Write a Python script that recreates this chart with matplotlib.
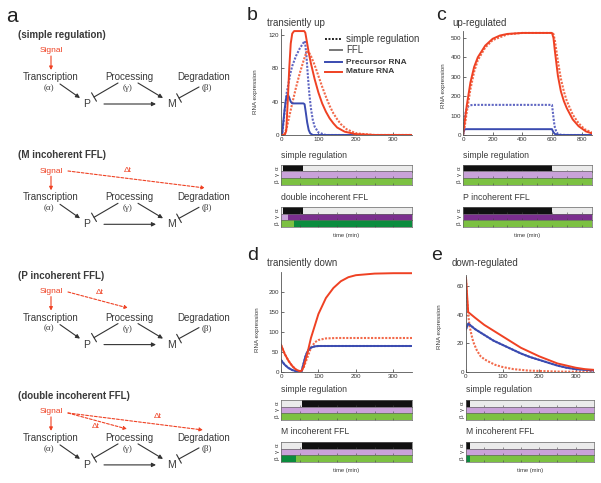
import matplotlib
matplotlib.use("Agg")
import matplotlib.pyplot as plt

W, H = 601, 483
plt.rcParams['font.family'] = ['Liberation Sans', 'DejaVu Sans']

RED = '#ef4123'
RED_DOT = '#f26a4b'
BLUE = '#3a4bb0'
BLUE_DOT = '#5f66c2'
TXT = '#3a3a3a'

# ---- b: transiently up (double incoherent FFL)
B_T_PRE_S = [0, 3, 6, 10, 15, 20, 25, 30, 40, 50, 60, 64, 68, 72, 76, 80, 85, 90, 100, 120, 350]
B_PRE_S = [0, 0, 12, 30, 50, 62, 74, 83, 95, 104, 111, 113, 95, 70, 48, 32, 18, 10, 3, 0, 0]
B_T_PRE_F = [0, 3, 6, 10, 14, 18, 22, 26, 30, 60, 63, 66, 70, 74, 78, 85, 350]
B_PRE_F = [0, 2, 15, 32, 45, 49, 45, 40, 38, 38, 37, 28, 15, 6, 2, 0, 0]
B_T_MAT_S = [0, 8, 15, 20, 30, 40, 50, 60, 68, 75, 80, 90, 100, 110, 120, 130, 140, 150, 160, 175, 200, 250, 350]
B_MAT_S = [0, 0, 8, 18, 38, 57, 74, 89, 100, 99, 95, 84, 71, 58, 46, 35, 26, 19, 13, 7, 2, 0, 0]
B_T_MAT_F = [0, 10, 14, 18, 22, 26, 30, 35, 62, 65, 70, 75, 80, 90, 100, 110, 120, 130, 140, 150, 170, 200, 250, 350]
B_MAT_F = [0, 0, 5, 40, 80, 110, 122, 125, 125, 123, 110, 97, 86, 67, 51, 38, 28, 20, 14, 9, 4, 1, 0, 0]

# ---- c: up-regulated (P incoherent FFL)
C_T_PRE_S = [0, 5, 10, 20, 30, 40, 50, 70, 600, 605, 610, 615, 620, 630, 640, 660, 700, 870]
C_PRE_S = [0, 45, 80, 125, 142, 150, 153, 155, 155, 125, 90, 60, 38, 15, 6, 1, 0, 0]
C_T_PRE_F = [0, 3, 6, 10, 20, 600, 605, 610, 620, 640, 660, 870]
C_PRE_F = [0, 12, 22, 28, 30, 30, 22, 14, 5, 1, 0, 0]
C_T_MAT_S = [0, 10, 25, 50, 75, 100, 150, 200, 300, 400, 600, 610, 620, 640, 660, 680, 700, 740, 780, 820, 870]
C_MAT_S = [0, 35, 115, 235, 325, 385, 450, 488, 518, 525, 525, 520, 485, 380, 290, 225, 175, 105, 60, 30, 12]
C_T_MAT_F = [0, 10, 25, 50, 75, 100, 150, 200, 250, 300, 400, 600, 610, 620, 640, 660, 680, 700, 740, 780, 830, 870]
C_MAT_F = [0, 60, 150, 270, 350, 400, 460, 495, 512, 520, 525, 525, 500, 430, 305, 225, 175, 138, 80, 45, 18, 8]

# ---- d: transiently down (M incoherent FFL)
D_T_PRE = [0, 10, 20, 30, 40, 50, 55, 60, 65, 70, 75, 80, 90, 100, 350]
D_PRE = [30, 18, 10, 5, 2, 1, 2, 20, 38, 50, 57, 61, 64, 65, 65]
D_T_MAT_S = [0, 10, 20, 30, 40, 50, 55, 60, 70, 80, 90, 100, 120, 150, 350]
D_MAT_S = [68, 45, 28, 15, 6, 2, 3, 10, 35, 60, 74, 80, 84, 85, 85]
D_T_MAT_F = [0, 10, 20, 30, 40, 50, 55, 60, 70, 80, 90, 100, 120, 140, 160, 180, 200, 250, 300, 350]
D_MAT_F = [68, 45, 28, 15, 6, 2, 3, 12, 45, 85, 115, 145, 185, 210, 227, 237, 242, 246, 247, 247]

# ---- e: down-regulated (M incoherent FFL)
E_T_PRE = [0, 6, 25, 50, 75, 100, 125, 150, 175, 200, 225, 250, 275, 300, 350]
E_PRE = [30, 34, 30, 26, 22, 19, 16, 13, 10.5, 8.5, 6.5, 4.5, 3, 2, 1]
E_T_MAT_S = [0, 3, 6, 10, 15, 20, 30, 40, 50, 60, 80, 100, 130, 170, 250, 350]
E_MAT_S = [65, 50, 40, 32, 26, 21, 15, 11, 9, 7.5, 5, 3.5, 2, 1, 0.3, 0]
E_T_MAT_F = [0, 6, 25, 50, 75, 100, 125, 150, 175, 200, 225, 250, 275, 300, 325, 350]
E_MAT_F = [66, 42, 38, 33, 29, 25, 21, 17, 14, 11, 8.5, 6, 4.5, 3, 2, 1.5]

# ---- rate schedules (start, end, level) for alpha / gamma / beta rows
B_S_A = [(0, 5, 0), (5, 60, 1), (60, 350, 0)]
B_S_G = [(0, 350, 0)]
B_S_B = [(0, 350, 0)]
B_F_A = [(0, 5, 0), (5, 60, 1), (60, 350, 0)]
B_F_G = [(0, 20, 0), (20, 350, 1)]
B_F_B = [(0, 35, 0), (35, 350, 1)]

C_S_A = [(0, 600, 1), (600, 870, 0)]
C_S_G = [(0, 870, 0)]
C_S_B = [(0, 870, 0)]
C_F_A = [(0, 600, 1), (600, 870, 0)]
C_F_G = [(0, 10, 0), (10, 870, 1)]
C_F_B = [(0, 870, 0)]

D_S_A = [(0, 55, 0), (55, 350, 1)]
D_S_G = [(0, 350, 0)]
D_S_B = [(0, 350, 0)]
D_F_A = [(0, 55, 0), (55, 350, 1)]
D_F_G = [(0, 350, 0)]
D_F_B = [(0, 40, 1), (40, 350, 0)]

E_S_A = [(0, 10, 1), (10, 350, 0)]
E_S_G = [(0, 350, 0)]
E_S_B = [(0, 350, 0)]
E_F_A = [(0, 10, 1), (10, 350, 0)]
E_F_G = [(0, 350, 0)]
E_F_B = [(0, 10, 1), (10, 350, 0)]

ROW_COLORS = {
    'a': ('#ebebeb', '#111111'),
    'g': ('#c9a2d9', '#7b2e8e'),
    'b': ('#7cc142', '#0b8c3e'),
}
GREEK = {'a': 'α', 'g': 'γ', 'b': 'β'}

NETWORKS = ['(simple regulation)', '(M incoherent FFL)', '(P incoherent FFL)',
            '(double incoherent FFL)']

fig = plt.figure(figsize=(W / 100, H / 100), dpi=100)
fig.patch.set_facecolor('white')


def px_axes(x0, y0, x1, y1, **kw):
    return fig.add_axes([x0 / W, 1 - y1 / H, (x1 - x0) / W, (y1 - y0) / H], **kw)


over = px_axes(0, 0, W, H, zorder=5)
over.set_xlim(0, W)
over.set_ylim(H, 0)
over.axis('off')
over.patch.set_alpha(0)


def curve_panel(box, xmax, ymax, xticks, yticks, curves):
    ax = px_axes(*box)
    for t, v, color, dotted in curves:
        if dotted:
            ax.plot(t, v, color=color, lw=1.5, ls=(0, (1, 0.7)))
        else:
            ax.plot(t, v, color=color, lw=1.4)
    ax.set_xlim(0, xmax)
    ax.set_ylim(0, ymax)
    ax.set_xticks(xticks)
    ax.set_yticks(yticks)
    for s in ('top', 'right'):
        ax.spines[s].set_visible(False)
    for s in ('left', 'bottom'):
        ax.spines[s].set_color('#555555')
        ax.spines[s].set_linewidth(0.6)
    ax.tick_params(direction='in', length=2, width=0.5, labelsize=4.5, pad=1.5,
                   colors='#333333')
    ax.patch.set_alpha(0)
    return ax


def bar_block(x0, x1, y0, row_h, tmax, step, rows):
    for i, (key, segs) in enumerate(rows):
        ya = y0 + i * row_h
        ax = px_axes(x0, ya, x1, ya + row_h)
        for s, e, lvl in segs:
            ax.barh(0.5, e - s, left=s, height=1, color=ROW_COLORS[key][lvl], lw=0)
        ax.set_xlim(0, tmax)
        ax.set_ylim(0, 1)
        ax.set_xticks(range(step, tmax, step))
        ax.set_yticks([])
        ax.tick_params(direction='in', length=1.2, width=0.4, labelbottom=False,
                       colors='#444444')
        for s in ax.spines.values():
            s.set_color('#666666')
            s.set_linewidth(0.5)
        over.text(x0 - 4, ya + row_h / 2, GREEK[key], rotation=90, ha='center',
                  va='center', fontsize=4.5, color=TXT)


def panel(letter, title, lxy, txy, ylab_xy, box, xmax, ymax, xticks, yticks, curves,
          bx0, bx1, by, tmax, step, names, sched_s, sched_f):
    curve_panel(box, xmax, ymax, xticks, yticks, curves)
    over.text(lxy[0], lxy[1], letter, fontsize=14, ha='left', va='center', color='#222222')
    over.text(txy[0], txy[1], title, fontsize=7, ha='left', va='center', color=TXT)
    over.text(ylab_xy[0], ylab_xy[1], 'RNA expression', rotation=90, fontsize=4.5,
              ha='center', va='center', color=TXT)
    row_h, gap = 6.5, 42
    over.text(bx0, by - 10, names[0], fontsize=6.2, ha='left', va='center', color=TXT)
    bar_block(bx0, bx1, by, row_h, tmax, step, sched_s)
    over.text(bx0, by + gap - 10, names[1], fontsize=6.2, ha='left', va='center', color=TXT)
    bar_block(bx0, bx1, by + gap, row_h, tmax, step, sched_f)
    over.text((bx0 + bx1) / 2, by + gap + 3 * row_h + 9, 'time (min)', fontsize=4.2,
              ha='center', va='center', color=TXT)


panel('b', 'transiently up', (247, 16), (267, 23), (256, 92),
      (281, 29, 412, 135), 350, 127.5, [0, 100, 200, 300], [0, 40, 80, 120],
      [(B_T_PRE_S, B_PRE_S, BLUE_DOT, True), (B_T_MAT_S, B_MAT_S, RED_DOT, True),
       (B_T_PRE_F, B_PRE_F, BLUE, False), (B_T_MAT_F, B_MAT_F, RED, False)],
      281, 412, 165, 350, 50, ['simple regulation', 'double incoherent FFL'],
      [('a', B_S_A), ('g', B_S_G), ('b', B_S_B)],
      [('a', B_F_A), ('g', B_F_G), ('b', B_F_B)])

panel('c', 'up-regulated', (436, 16), (452, 23), (444, 86),
      (463, 31, 592, 135), 870, 535, [0, 200, 400, 600, 800], [0, 100, 200, 300, 400, 500],
      [(C_T_PRE_S, C_PRE_S, BLUE_DOT, True), (C_T_MAT_S, C_MAT_S, RED_DOT, True),
       (C_T_PRE_F, C_PRE_F, BLUE, False), (C_T_MAT_F, C_MAT_F, RED, False)],
      463, 592, 165, 870, 100, ['simple regulation', 'P incoherent FFL'],
      [('a', C_S_A), ('g', C_S_G), ('b', C_S_B)],
      [('a', C_F_A), ('g', C_F_G), ('b', C_F_B)])

panel('d', 'transiently down', (247, 256), (267, 263), (257, 330),
      (281, 272, 412, 372), 350, 250, [0, 100, 200, 300], [0, 50, 100, 150, 200],
      [(D_T_PRE, D_PRE, BLUE_DOT, True), (D_T_MAT_S, D_MAT_S, RED_DOT, True),
       (D_T_PRE, D_PRE, BLUE, False), (D_T_MAT_F, D_MAT_F, RED, False)],
      281, 412, 400, 350, 50, ['simple regulation', 'M incoherent FFL'],
      [('a', D_S_A), ('g', D_S_G), ('b', D_S_B)],
      [('a', D_F_A), ('g', D_F_G), ('b', D_F_B)])

panel('e', 'down-regulated', (431, 256), (452, 263), (440, 327),
      (466, 275, 594, 372), 350, 68, [0, 100, 200, 300], [0, 20, 40, 60],
      [(E_T_PRE, E_PRE, BLUE_DOT, True), (E_T_MAT_S, E_MAT_S, RED_DOT, True),
       (E_T_PRE, E_PRE, BLUE, False), (E_T_MAT_F, E_MAT_F, RED, False)],
      466, 594, 400, 350, 50, ['simple regulation', 'M incoherent FFL'],
      [('a', E_S_A), ('g', E_S_G), ('b', E_S_B)],
      [('a', E_F_A), ('g', E_F_G), ('b', E_F_B)])

# legend (panel b)
leg_rows = [(39, 'simple regulation', '#222222', (0, (1, 0.8)), 'normal', 7, 325),
            (50, 'FFL', '#777777', '-', 'normal', 7, 330),
            (62, 'Precursor RNA', BLUE, '-', 'bold', 6, 325),
            (71.5, 'Mature RNA', RED, '-', 'bold', 6, 325)]
for y, lab, col, ls, wt, fs, xs in leg_rows:
    over.plot([xs, 342], [y, y], color=col, ls=ls, lw=1.4)
    over.text(346, y, lab, fontsize=fs, fontweight=wt, ha='left', va='center', color=TXT)

# ---- a: network diagrams
over.text(6, 16, 'a', fontsize=15, ha='left', va='center', color='#222222')
GRAY = '#333333'


def arrow(p0, p1, color=GRAY, style='-|>', ls='-', lw=0.8, ms=6):
    over.annotate('', xy=p1, xytext=p0,
                  arrowprops=dict(arrowstyle=style, color=color, lw=lw, ls=ls,
                                  mutation_scale=ms, shrinkA=0, shrinkB=0))


bar_style = '-[, widthB=0.7, lengthB=0'
for k, name in enumerate(NETWORKS):
    b0 = 35 + 120.3 * k
    over.text(18, b0, name, fontsize=7, fontweight='bold', ha='left', va='center', color=TXT)
    over.text(51, b0 + 16, 'Signal', fontsize=6, ha='center', va='center', color=RED)
    arrow((51, b0 + 21), (51, b0 + 35), color=RED, ms=5)
    over.text(51, b0 + 42, 'Transcription', fontsize=7, ha='center', va='center', color=TXT)
    over.text(129, b0 + 42, 'Processing', fontsize=7, ha='center', va='center', color=TXT)
    over.text(204, b0 + 42, 'Degradation', fontsize=7, ha='center', va='center', color=TXT)
    for x, g in ((49, '(α)'), (128, '(γ)'), (207, '(β)')):
        over.text(x, b0 + 53, g, fontsize=6.5, ha='center', va='center', color=TXT,
                  family=['Liberation Serif', 'DejaVu Serif'])
    over.text(87, b0 + 69, 'P', fontsize=7.5, ha='center', va='center', color=TXT)
    over.text(171, b0 + 69, 'M', fontsize=7.5, ha='center', va='center', color=TXT)
    arrow((60, b0 + 49), (80, b0 + 63))
    arrow((118, b0 + 48), (94, b0 + 62), style=bar_style, ms=5)
    arrow((138, b0 + 48), (163, b0 + 63))
    arrow((199, b0 + 52), (179, b0 + 63), style=bar_style, ms=5)
    arrow((104, b0 + 69), (156, b0 + 69))

dash = (0, (2.5, 1.5))
# M incoherent FFL
arrow((68, 171), (205, 188), color=RED, ls=dash, ms=5)
over.text(128, 170, 'Δt', fontsize=6, ha='center', va='center', color=RED)
# P incoherent FFL
arrow((68, 292), (128, 308), color=RED, ls=dash, ms=5)
over.text(100, 292, 'Δt', fontsize=6, ha='center', va='center', color=RED)
# double incoherent FFL
arrow((68, 413), (127, 429), color=RED, ls=dash, ms=5)
over.text(96, 426, 'Δt', fontsize=6, ha='center', va='center', color=RED)
arrow((68, 413), (203, 430), color=RED, ls=dash, ms=5)
over.text(158, 417, 'Δt', fontsize=6, ha='center', va='center', color=RED)

fig.savefig('out.png', dpi=100, facecolor='white')
